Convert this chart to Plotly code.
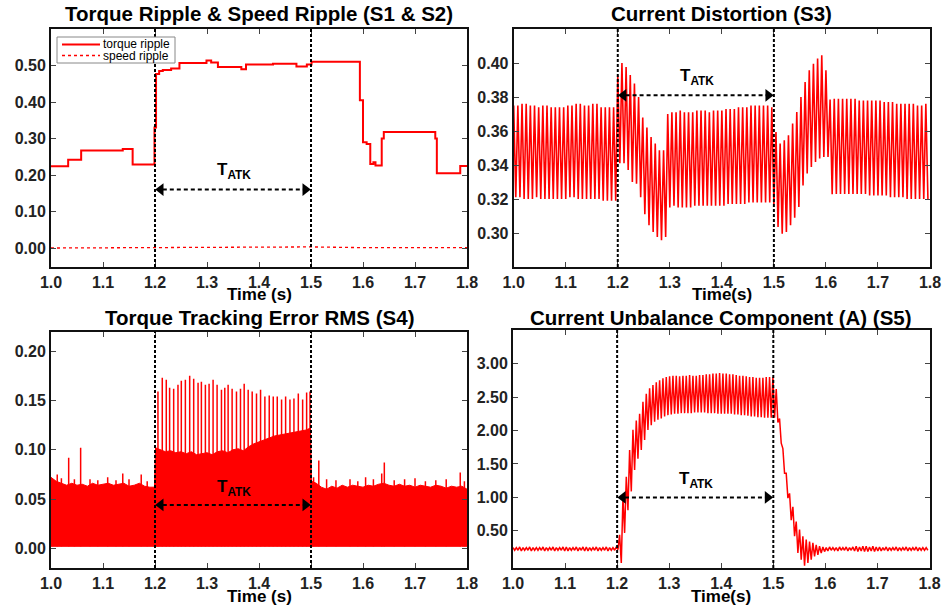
import numpy as np
import plotly.graph_objects as go

# ---------------- data ----------------
attack_start = 1.2
attack_end = 1.5
x_ticks = [1.0, 1.1, 1.2, 1.3, 1.4, 1.5, 1.6, 1.7, 1.8]

# S1 torque ripple (step signal)
torque_t = [1.000, 1.033, 1.058, 1.138, 1.157, 1.199, 1.202, 1.208, 1.215, 1.231, 1.247,
            1.299, 1.308, 1.321, 1.366, 1.375, 1.427, 1.472, 1.492, 1.501, 1.594, 1.600,
            1.607, 1.614, 1.620, 1.624, 1.636, 1.640, 1.739, 1.742, 1.787, 1.800]
torque_v = [0.224, 0.242, 0.267, 0.271, 0.229, 0.330, 0.477, 0.485, 0.488, 0.492, 0.507,
            0.514, 0.508, 0.496, 0.490, 0.503, 0.505, 0.497, 0.503, 0.510, 0.405, 0.290,
            0.285, 0.230, 0.235, 0.226, 0.300, 0.318, 0.300, 0.205, 0.225, 0.225]
# S2 speed ripple
speed_t = [1.0, 1.2, 1.25, 1.5, 1.6, 1.8]
speed_v = [0.000, 0.001, 0.003, 0.003, 0.001, 0.001]
legend_names = ["torque ripple", "speed ripple"]

# S3 current distortion: per-cycle upper / lower peaks (cycle period 0.008 s from 1.0 s)
s3_period = 0.008
s3_upper = [0.375, 0.375, 0.376, 0.376, 0.375, 0.375, 0.374, 0.375, 0.375, 0.374, 0.374, 0.374, 0.374,
            0.375, 0.375, 0.376, 0.376, 0.375, 0.375, 0.376, 0.376, 0.374, 0.374, 0.374, 0.374,
            0.3927, 0.400, 0.3976, 0.393, 0.388, 0.380, 0.368, 0.362, 0.3565, 0.3526, 0.3487, 0.3487, 0.370,
            0.371, 0.371, 0.372, 0.371, 0.371, 0.371, 0.372, 0.372, 0.372, 0.371, 0.372, 0.372, 0.372,
            0.373, 0.373, 0.373, 0.374, 0.374, 0.374, 0.375, 0.375, 0.375, 0.375, 0.375, 0.374,
            0.3594, 0.3526, 0.3545, 0.3575, 0.3644, 0.3712, 0.380, 0.3888, 0.3957, 0.3996, 0.4026, 0.4045, 0.3957,
            0.3785, 0.379, 0.379, 0.379, 0.379, 0.379, 0.379, 0.378, 0.378, 0.378, 0.378, 0.378,
            0.378, 0.377, 0.377, 0.377, 0.376, 0.376, 0.376, 0.376, 0.376, 0.375, 0.375, 0.376]
s3_lower = [0.321, 0.321, 0.320, 0.320, 0.320, 0.321, 0.320, 0.320, 0.320, 0.320, 0.320, 0.320, 0.320,
            0.321, 0.321, 0.320, 0.320, 0.320, 0.320, 0.320, 0.320, 0.319, 0.319, 0.319, 0.319,
            0.341, 0.341, 0.337, 0.330, 0.329, 0.321, 0.311, 0.3045, 0.3006, 0.2977, 0.2957, 0.2977, 0.315,
            0.316, 0.315, 0.315, 0.315, 0.315, 0.316, 0.316, 0.316, 0.316, 0.316, 0.316, 0.316, 0.316,
            0.317, 0.317, 0.317, 0.317, 0.317, 0.318, 0.318, 0.318, 0.318, 0.318, 0.318, 0.317,
            0.3035, 0.2996, 0.3006, 0.3045, 0.309, 0.3153, 0.328, 0.335, 0.3388, 0.3418, 0.3438, 0.3447, 0.3447,
            0.3228, 0.323, 0.323, 0.323, 0.323, 0.323, 0.323, 0.323, 0.323, 0.322, 0.322, 0.322,
            0.322, 0.322, 0.321, 0.321, 0.321, 0.321, 0.320, 0.320, 0.320, 0.320, 0.320, 0.320]

# S4 torque tracking error RMS: dense band top, plus individual spikes
s4_t = [1.000, 1.010, 1.020, 1.030, 1.040, 1.050, 1.060, 1.070, 1.080, 1.090, 1.100, 1.110, 1.120,
        1.130, 1.140, 1.150, 1.160, 1.170, 1.180, 1.190, 1.199, 1.201, 1.210, 1.220, 1.230, 1.240,
        1.250, 1.260, 1.270, 1.280, 1.290, 1.300, 1.310, 1.320, 1.330, 1.340, 1.350, 1.360, 1.370,
        1.380, 1.390, 1.400, 1.410, 1.420, 1.430, 1.440, 1.450, 1.460, 1.470, 1.480, 1.490, 1.499,
        1.501, 1.510, 1.520, 1.530, 1.540, 1.550, 1.560, 1.570, 1.580, 1.590, 1.600, 1.610, 1.620,
        1.630, 1.640, 1.650, 1.660, 1.670, 1.680, 1.690, 1.700, 1.710, 1.720, 1.730, 1.740, 1.750,
        1.760, 1.770, 1.780, 1.790, 1.800]
s4_top = [0.072, 0.068, 0.066, 0.064, 0.066, 0.064, 0.065, 0.063, 0.066, 0.064, 0.065, 0.066, 0.064,
          0.065, 0.066, 0.063, 0.064, 0.066, 0.063, 0.062, 0.062, 0.102, 0.100, 0.098, 0.099, 0.097,
          0.098, 0.096, 0.098, 0.095, 0.096, 0.097, 0.095, 0.098, 0.099, 0.097, 0.100, 0.101, 0.099,
          0.103, 0.106, 0.108, 0.110, 0.112, 0.114, 0.115, 0.116, 0.117, 0.118, 0.119, 0.120, 0.122,
          0.068, 0.066, 0.062, 0.060, 0.063, 0.061, 0.064, 0.062, 0.064, 0.063, 0.062, 0.064, 0.063,
          0.065, 0.066, 0.064, 0.063, 0.065, 0.063, 0.064, 0.062, 0.064, 0.063, 0.062, 0.064, 0.063,
          0.061, 0.063, 0.062, 0.063, 0.060]
s4_floor = 0.002
s4_spike_t = [1.012, 1.020, 1.034, 1.045, 1.057, 1.075, 1.090, 1.109, 1.125, 1.138, 1.150, 1.1735, 1.185,
              1.2057, 1.2140, 1.2217, 1.2281, 1.2359, 1.2442, 1.2506, 1.2584, 1.2667, 1.2744, 1.2828,
              1.2892, 1.2969, 1.3040, 1.3117, 1.3194, 1.3278, 1.3342, 1.3406, 1.3483, 1.3567, 1.3644,
              1.3715, 1.3792, 1.3869, 1.3952, 1.4030, 1.4113, 1.4197, 1.4274, 1.4351, 1.4434, 1.4512,
              1.4595, 1.4672, 1.4756, 1.4839, 1.4916, 1.4981,
              1.505, 1.515, 1.530, 1.548, 1.575, 1.590, 1.605, 1.620, 1.636, 1.641, 1.660, 1.680,
              1.700, 1.720, 1.740, 1.760, 1.787, 1.795]
s4_spike_v = [0.075, 0.071, 0.092, 0.070, 0.102, 0.070, 0.069, 0.072, 0.069, 0.076, 0.070, 0.075, 0.068,
              0.159, 0.173, 0.171, 0.163, 0.162, 0.166, 0.170, 0.171, 0.175, 0.172, 0.168,
              0.169, 0.166, 0.167, 0.171, 0.166, 0.161, 0.163, 0.166, 0.162, 0.159, 0.162,
              0.167, 0.161, 0.159, 0.157, 0.161, 0.154, 0.155, 0.154, 0.154, 0.151, 0.154,
              0.151, 0.152, 0.157, 0.151, 0.158, 0.159,
              0.072, 0.089, 0.070, 0.069, 0.070, 0.068, 0.072, 0.070, 0.076, 0.087, 0.069, 0.070,
              0.071, 0.068, 0.069, 0.070, 0.077, 0.068]

# S5 current unbalance component: per-cycle upper / lower peaks (period 0.0064 s from 1.0 s)
s5_period = 0.0064
s5_upper = [0.25, 0.25, 0.26, 0.25, 0.25, 0.26, 0.25, 0.25, 0.25, 0.26, 0.25, 0.25, 0.26, 0.25, 0.25, 0.26,
            0.26, 0.25, 0.25, 0.26, 0.25, 0.26, 0.26, 0.25, 0.25, 0.26, 0.25, 0.25, 0.26, 0.25, 0.25, 0.26,
            0.44, 1.01, 1.31, 1.71, 2.01, 2.15, 2.25, 2.43, 2.55, 2.63, 2.68, 2.72, 2.75, 2.78, 2.80,
            2.81, 2.82, 2.82, 2.81, 2.82, 2.82, 2.83, 2.82, 2.82, 2.83, 2.83, 2.84, 2.84, 2.85, 2.85, 2.86,
            2.85, 2.85, 2.84, 2.84, 2.83, 2.82, 2.82, 2.81, 2.80, 2.80, 2.79, 2.79, 2.79, 2.80, 2.80,
            2.80, 2.62, 2.18, 1.73, 1.36, 1.06, 0.86, 0.64, 0.52, 0.42, 0.37, 0.34, 0.32, 0.29, 0.27, 0.26,
            0.25, 0.26, 0.25, 0.25, 0.26, 0.25, 0.26, 0.25, 0.26, 0.27, 0.26, 0.27, 0.27, 0.26, 0.27, 0.26,
            0.26, 0.25, 0.26, 0.25, 0.25, 0.26, 0.25, 0.25, 0.26, 0.25, 0.25, 0.26, 0.25, 0.25, 0.25]
s5_lower = [0.21, 0.21, 0.20, 0.21, 0.21, 0.20, 0.21, 0.21, 0.21, 0.20, 0.21, 0.21, 0.20, 0.21, 0.21, 0.20,
            0.20, 0.21, 0.21, 0.20, 0.21, 0.20, 0.20, 0.21, 0.21, 0.20, 0.21, 0.21, 0.20, 0.21, 0.21, 0.22,
            0.02, 0.47, 0.81, 1.09, 1.41, 1.58, 1.71, 1.86, 2.01, 2.08, 2.13, 2.16, 2.18, 2.21, 2.23,
            2.24, 2.25, 2.25, 2.26, 2.26, 2.26, 2.26, 2.27, 2.27, 2.27, 2.27, 2.26, 2.26, 2.26, 2.25, 2.25,
            2.25, 2.25, 2.25, 2.24, 2.24, 2.23, 2.23, 2.22, 2.21, 2.21, 2.20, 2.20, 2.19, 2.19, 2.19,
            2.19, 2.12, 1.81, 1.36, 0.99, 0.66, 0.42, 0.17, 0.07, -0.02, 0.02, 0.07, 0.12, 0.14, 0.17, 0.19,
            0.20, 0.21, 0.21, 0.20, 0.21, 0.21, 0.20, 0.21, 0.20, 0.19, 0.20, 0.19, 0.19, 0.20, 0.19, 0.20,
            0.20, 0.21, 0.20, 0.21, 0.21, 0.20, 0.21, 0.21, 0.20, 0.21, 0.21, 0.20, 0.21, 0.21, 0.21]

titles = ["Torque Ripple & Speed Ripple (S1 & S2)", "Current Distortion (S3)",
          "Torque Tracking Error RMS (S4)", "Current Unbalance Component (A) (S5)"]
xlabels = ["Time (s)", "Time(s)", "Time (s)", "Time(s)"]

# ---------------- helpers ----------------
FONT = "Arial, Liberation Sans, sans-serif"
RED = "#ff0000"


def zigzag(start, period, upper, lower):
    xs, ys = [], []
    for k, (u, l) in enumerate(zip(upper, lower)):
        t = start + k * period
        xs += [t, t + period / 2]
        ys += [u, l]
    return xs, ys


fig = go.Figure()

# panel 1
fig.add_trace(go.Scatter(x=torque_t, y=torque_v, mode="lines", line=dict(color=RED, width=2, shape="hv"),
                         name=legend_names[0], showlegend=False, xaxis="x", yaxis="y"))
fig.add_trace(go.Scatter(x=speed_t, y=speed_v, mode="lines", line=dict(color=RED, width=1.3, dash="dot"),
                         name=legend_names[1], showlegend=False, xaxis="x", yaxis="y"))

# panel 2
zx, zy = zigzag(1.0, s3_period, s3_upper, s3_lower)
fig.add_trace(go.Scatter(x=zx, y=zy, mode="lines", line=dict(color=RED, width=1.6),
                         showlegend=False, xaxis="x2", yaxis="y2"))

# panel 3
fig.add_trace(go.Scatter(x=s4_t + s4_t[::-1], y=s4_top + [s4_floor] * len(s4_t), mode="lines",
                         fill="toself", fillcolor=RED, line=dict(color=RED, width=1),
                         showlegend=False, xaxis="x3", yaxis="y3"))
sx, sy = [], []
for t, v in zip(s4_spike_t, s4_spike_v):
    sx += [t, t, None]
    sy += [s4_floor, v, None]
fig.add_trace(go.Scatter(x=sx, y=sy, mode="lines", line=dict(color=RED, width=1.5),
                         showlegend=False, xaxis="x3", yaxis="y3"))

# panel 4
zx, zy = zigzag(1.0, s5_period, s5_upper, s5_lower)
fig.add_trace(go.Scatter(x=zx, y=zy, mode="lines", line=dict(color=RED, width=1.5),
                         showlegend=False, xaxis="x4", yaxis="y4"))

# ---------------- layout ----------------
W, H = 945, 608


def pxx(v):  # pixel from left -> paper x
    return v / W


def pxy(v):  # pixel from top -> paper y
    return 1 - v / H


dom_x = [[pxx(51), pxx(467)], [pxx(513.7), pxx(930)], [pxx(51), pxx(467)], [pxx(513), pxx(929.5)]]
dom_y = [[pxy(267), pxy(29)], [pxy(267), pxy(29)], [pxy(568), pxy(331.5)], [pxy(568), pxy(329.5)]]
y_ranges = [[-0.052, 0.60], [0.28, 0.42], [-0.02, 0.22], [-0.055, 3.51]]
y_ticks = [[0, 0.1, 0.2, 0.3, 0.4, 0.5], [0.30, 0.32, 0.34, 0.36, 0.38, 0.40],
           [0, 0.05, 0.10, 0.15, 0.20], [0.5, 1.0, 1.5, 2.0, 2.5, 3.0]]
tick_font = dict(family=FONT, size=16, color="#222", weight="bold")

common = dict(showline=True, linewidth=2, linecolor="#111", mirror="ticks", ticks="inside",
              ticklen=5, tickwidth=1, tickcolor="#444", showgrid=False, zeroline=False,
              tickfont=tick_font, automargin=False)

lay = {}
for i in range(4):
    s = "" if i == 0 else str(i + 1)
    lay["xaxis" + s] = dict(common, domain=dom_x[i], range=[1.0, 1.8], tickvals=x_ticks,
                            tickformat=".1f", anchor="y" + s)
    lay["yaxis" + s] = dict(common, domain=dom_y[i], range=y_ranges[i], tickvals=y_ticks[i],
                            tickformat=".2f", anchor="x" + s)

ann = []
shapes = []
title_y = [14, 14, 317, 317]
xlabel_y = [294.5, 294.5, 596, 596]
tatk_text_y = [0.21, 0.392, 0.0615, 1.26]
tatk_arrow_y = [0.16, 0.381, 0.044, 1.0]
for i in range(4):
    s = "" if i == 0 else str(i + 1)
    xc = (dom_x[i][0] + dom_x[i][1]) / 2
    ann.append(dict(text="<b>%s</b>" % titles[i], x=xc, y=pxy(title_y[i]), xref="paper", yref="paper",
                    showarrow=False, xanchor="center", yanchor="middle",
                    font=dict(family=FONT, size=20.5, color="#000")))
    ann.append(dict(text="<b>%s</b>" % xlabels[i], x=xc, y=pxy(xlabel_y[i]), xref="paper", yref="paper",
                    showarrow=False, xanchor="center", yanchor="middle",
                    font=dict(family=FONT, size=17, color="#000")))
    ann.append(dict(text="<b>T<sub>ATK</sub></b>", x=1.352, y=tatk_text_y[i], xref="x" + s, yref="y" + s,
                    showarrow=False, xanchor="center", yanchor="middle",
                    font=dict(family=FONT, size=17, color="#000")))
    for xv in (attack_start, attack_end):
        shapes.append(dict(type="line", xref="x" + s, yref="y%s domain" % s, x0=xv, x1=xv, y0=0, y1=1,
                           line=dict(color="#000", width=2, dash="3px,2px")))
    shapes.append(dict(type="line", xref="x" + s, yref="y" + s, x0=attack_start + 0.015,
                       x1=attack_end - 0.015, y0=tatk_arrow_y[i], y1=tatk_arrow_y[i],
                       line=dict(color="#000", width=2, dash="4px,3px")))
    fig.add_trace(go.Scatter(x=[attack_start + 0.011, attack_end - 0.011],
                             y=[tatk_arrow_y[i]] * 2, mode="markers",
                             marker=dict(symbol=["triangle-left", "triangle-right"], size=11, color="#000"),
                             showlegend=False, xaxis="x" + s, yaxis="y" + s, hoverinfo="skip"))

# compact legend box (drawn as shapes + text, like the original)
shapes.append(dict(type="rect", xref="paper", yref="paper", x0=pxx(57), x1=pxx(175), y0=pxy(63), y1=pxy(37),
                   fillcolor="white", line=dict(color="#888", width=1), layer="above"))
leg_rows = [44.5, 55.5]
leg_dash = ["solid", "dot"]
leg_width = [2, 1.3]
for j in range(2):
    shapes.append(dict(type="line", xref="paper", yref="paper", x0=pxx(62), x1=pxx(100),
                       y0=pxy(leg_rows[j]), y1=pxy(leg_rows[j]), layer="above",
                       line=dict(color=RED, width=leg_width[j], dash=leg_dash[j])))
    ann.append(dict(text=legend_names[j], x=pxx(101), y=pxy(leg_rows[j]), xref="paper", yref="paper",
                    showarrow=False, xanchor="left", yanchor="middle",
                    font=dict(family=FONT, size=12, color="#000")))

fig.update_layout(
    width=W, height=H, margin=dict(l=0, r=0, t=0, b=0),
    paper_bgcolor="white", plot_bgcolor="white",
    showlegend=False,
    annotations=ann, shapes=shapes, **lay)

# remove the default 8 px page margin so the figure fills the window exactly
fig.write_html("out.html", config={"displayModeBar": False},
               post_script="document.body.style.margin='0px';")
